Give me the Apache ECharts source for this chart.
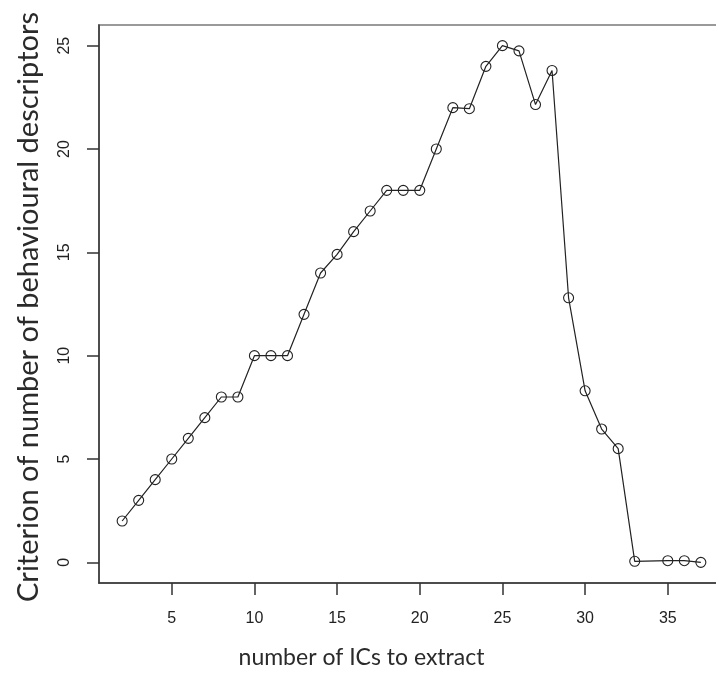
<!DOCTYPE html>
<html>
<head>
<meta charset="utf-8">
<script src="https://cdn.jsdelivr.net/npm/echarts@6/dist/echarts.min.js"></script>
<style>
html,body{margin:0;padding:0;background:#fff;}
#chart{width:716px;height:674px;}
</style>
</head>
<body>
<div id="chart"></div>
<script>
// Data
const icCount = [2,3,4,5,6,7,8,9,10,11,12,13,14,15,16,17,18,19,20,21,22,23,24,25,26,27,28,29,30,31,32,33,35,36,37];
const criterion = [2,3,4,5,6,7,8,8,10,10,10,12,14,14.9,16,17,18,18,18,20,22,21.95,24,25,24.75,22.15,23.8,12.8,8.3,6.45,5.5,0.05,0.08,0.08,0];
const xTicks = [5,10,15,20,25,30,35];
const yTicks = [0,5,10,15,20,25];
const xTitle = 'number of ICs to extract';
const yTitle = 'Criterion of number of behavioural descriptors';

const points = icCount.map((x, i) => [x, criterion[i]]);

const chart = echarts.init(document.getElementById('chart'), null, {renderer: 'canvas'});
chart.setOption({
  animation: false,
  backgroundColor: '#fff',
  grid: {
    left: 99, top: 25, right: -8, bottom: 91,
    show: true, borderColor: '#9a9a9a', borderWidth: 2,
    outerBoundsMode: 'none'
  },
  xAxis: {
    type: 'value', min: 0.6, max: 38.4,
    name: xTitle, nameLocation: 'middle', nameGap: 63,
    nameTextStyle: {fontFamily: 'Lato', fontSize: 23, color: '#2a2a2a', padding: [0, 100, 0, 0]},
    axisLine: {show: true, onZero: false, lineStyle: {color: '#333', width: 1.5}},
    axisTick: {show: true, length: 12, customValues: xTicks, lineStyle: {color: '#333', width: 1.5}},
    axisLabel: {customValues: xTicks, margin: 28, fontFamily: 'Liberation Sans', fontSize: 16, color: '#222'},
    splitLine: {show: false}
  },
  yAxis: {
    type: 'value', min: -1, max: 26,
    name: yTitle, nameLocation: 'middle', nameGap: 56, nameRotate: 90,
    nameTextStyle: {fontFamily: 'Lato', fontSize: 29, color: '#2a2a2a', padding: [0, 6, 0, 0]},
    axisLine: {show: true, onZero: false, lineStyle: {color: '#333', width: 1.5}},
    axisTick: {show: true, length: 12, customValues: yTicks, lineStyle: {color: '#333', width: 1.5}},
    axisLabel: {customValues: yTicks, rotate: 90, margin: 26, fontFamily: 'Liberation Sans', fontSize: 16, color: '#222'},
    splitLine: {show: false}
  },
  series: [{
    type: 'line',
    data: points,
    symbol: 'circle',
    symbolSize: 10,
    showAllSymbol: true,
    lineStyle: {color: '#222', width: 1.2},
    itemStyle: {color: 'rgba(0,0,0,0)', borderColor: '#222', borderWidth: 1.1},
    emphasis: {disabled: true}
  }]
});
</script>
</body>
</html>
